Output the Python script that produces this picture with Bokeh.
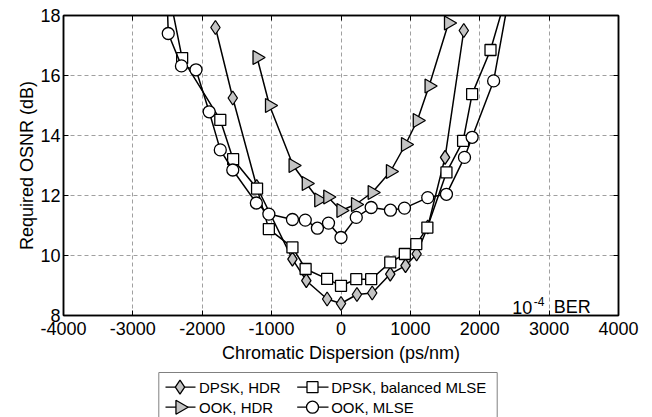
import math
from bokeh.plotting import figure
from bokeh.models import Range1d, FixedTicker, LinearAxis
from bokeh.layouts import column
from bokeh.core.properties import value
from bokeh.embed import file_html
from bokeh.resources import INLINE

# ---------------- data ----------------
x_ticks = [-4000, -3000, -2000, -1000, 0, 1000, 2000, 3000, 4000]
x_tick_labels = ["-4000", "-3000", "-2000", "-1000", "0", "1000", "2000", "3000", "4000"]
y_ticks = [8, 10, 12, 14, 16, 18]
y_tick_labels = ["8", "10", "12", "14", "16", "18"]

dpsk_hdr_x = [-1810, -1560, -1215, -700, -500, -200, 0, 230, 450, 710, 930, 1090, 1250, 1500, 1770]
dpsk_hdr_y = [17.6, 15.25, 12.3, 9.88, 9.16, 8.55, 8.4, 8.7, 8.75, 9.38, 9.66, 10.05, 10.95, 13.27, 17.5]

ook_hdr_x = [-1210, -1030, -690, -500, -320, -190, 0, 210, 450, 713, 930, 1100, 1270, 1550]
ook_hdr_y = [16.6, 15.0, 13.0, 12.4, 11.85, 11.95, 11.5, 11.7, 12.1, 12.8, 13.7, 14.5, 15.65, 17.75]

dpsk_mlse_x = [-2500, -2290, -1740, -1555, -1210, -1040, -700, -510, -200, 0, 220, 435, 710, 920, 1085, 1245, 1520, 1760, 1890, 2155, 2400]
dpsk_mlse_y = [19.0, 16.58, 14.52, 13.21, 12.23, 10.88, 10.27, 9.55, 9.22, 8.99, 9.21, 9.21, 9.77, 10.05, 10.38, 10.93, 12.77, 13.82, 15.38, 16.85, 18.8]

ook_mlse_x = [-2520, -2490, -2300, -2090, -1900, -1740, -1560, -1220, -1040, -700, -515, -340, -180, 0, 220, 435, 713, 915, 1250, 1520, 1780, 1890, 2200, 2450]
ook_mlse_y = [19.5, 17.4, 16.32, 16.19, 14.79, 13.52, 12.85, 11.75, 11.38, 11.2, 11.18, 10.91, 11.08, 10.6, 11.27, 11.6, 11.51, 11.58, 11.93, 12.04, 13.27, 13.94, 15.82, 19.0]

legend_labels = ["DPSK, HDR", "DPSK, balanced MLSE", "OOK, HDR", "OOK, MLSE"]

FONT = "Liberation Sans"
GRAY = "#c4c4c4"
W = 640
FL, FR = 63, 618  # frame edges in page pixels

# ---------------- main figure ----------------
p = figure(width=W, height=365, output_backend="svg", toolbar_location=None,
           x_range=Range1d(-4000, 4000), y_range=Range1d(8, 18),
           min_border_left=FL, min_border_right=W - FR, min_border_top=15, min_border_bottom=50)
p.outline_line_color = "black"
p.outline_line_width = 1.5
p.background_fill_color = "white"
p.border_fill_color = "white"

for ax in (p.xaxis[0], p.yaxis[0]):
    ax.major_tick_in = 5
    ax.major_tick_out = 0
    ax.minor_tick_line_color = None
    ax.axis_line_width = 1.5
    ax.axis_line_color = "black"
    ax.major_tick_line_color = "black"
    ax.major_label_text_font = FONT
    ax.major_label_text_font_size = "18px"
    ax.major_label_text_color = "black"
    ax.axis_label_text_font = FONT
    ax.axis_label_text_font_size = "18px"
    ax.axis_label_text_font_style = "normal"
    ax.axis_label_text_color = "black"

p.xaxis.ticker = FixedTicker(ticks=x_ticks)
p.yaxis.ticker = FixedTicker(ticks=y_ticks)
p.xaxis.major_label_overrides = {t: s for t, s in zip(x_ticks, x_tick_labels)}
p.yaxis.major_label_overrides = {t: s for t, s in zip(y_ticks, y_tick_labels)}
p.xaxis.axis_label = "Chromatic Dispersion (ps/nm)"
p.yaxis.axis_label = "Required OSNR (dB)"
p.xaxis.major_label_standoff = 6
p.xaxis.axis_label_standoff = 5
p.yaxis.major_label_standoff = 3
p.yaxis.axis_label_standoff = 0

for loc, ticks in (("above", x_ticks), ("right", y_ticks)):
    ax = LinearAxis(ticker=FixedTicker(ticks=ticks))
    ax.major_tick_in = 5
    ax.major_tick_out = 0
    ax.minor_tick_line_color = None
    ax.major_label_overrides = {t: "" for t in ticks}
    ax.major_label_standoff = 0
    ax.axis_line_width = 1.5
    p.add_layout(ax, loc)

p.xgrid.ticker = FixedTicker(ticks=x_ticks)
p.ygrid.ticker = FixedTicker(ticks=y_ticks)
p.grid.grid_line_color = "#a0a0a0"
p.grid.grid_line_dash = "4 3"
p.grid.grid_line_width = 1

LW = 1.5
# DPSK, HDR
p.line(dpsk_hdr_x, dpsk_hdr_y, line_color="black", line_width=LW)
p.scatter(dpsk_hdr_x, dpsk_hdr_y, marker="diamond", size=14, fill_color=GRAY, line_color="black", line_width=1.3)
# OOK, HDR
p.line(ook_hdr_x, ook_hdr_y, line_color="black", line_width=LW)
p.scatter(ook_hdr_x, ook_hdr_y, marker="triangle", angle=-math.pi / 2, size=14, fill_color=GRAY, line_color="black", line_width=1.3)
# DPSK, balanced MLSE
p.line(dpsk_mlse_x, dpsk_mlse_y, line_color="black", line_width=LW)
p.scatter(dpsk_mlse_x, dpsk_mlse_y, marker="square", size=11, fill_color="white", line_color="black", line_width=1.3)
# OOK, MLSE
p.line(ook_mlse_x, ook_mlse_y, line_color="black", line_width=LW)
p.scatter(ook_mlse_x, ook_mlse_y, marker="circle", size=12, fill_color="white", line_color="black", line_width=1.3)

# "10^-4 BER" annotation
p.text(x=[2468, 3067], y=[8.27, 8.27], text=["10", "BER"], text_font=value(FONT),
       text_font_size=value("18px"), text_baseline="alphabetic", text_align="left", text_color="black")
p.text(x=[2779], y=[8.47], text=["-4"], text_font=value(FONT),
       text_font_size=value("12px"), text_baseline="alphabetic", text_align="left", text_color="black")

# ---------------- legend figure (x in page pixels, y from its top) ----------------
LH = 52
lf = figure(width=W, height=LH, output_backend="svg", toolbar_location=None,
            x_range=Range1d(FL, FR), y_range=Range1d(LH, 0),
            min_border=0, x_axis_location=None, y_axis_location=None)
lf.outline_line_color = None
lf.grid.visible = False
lf.background_fill_color = "white"
lf.border_fill_color = "white"

lf.quad(left=[158.3], right=[496.7], top=[7], bottom=[70], fill_color="white", line_color="#808080", line_width=1)

row_y = [21.7, 41.7]
col_line = [(165, 195), (296.7, 328)]
col_mark = [179.5, 312]
col_text = [198.5, 330.7]
items = [
    (0, 0, "diamond", 14, GRAY, 0),
    (1, 0, "square", 11, "white", 0),
    (0, 1, "triangle", 14, GRAY, -math.pi / 2),
    (1, 1, "circle", 12, "white", 0),
]
for c, r, mk, sz, fc, ang in items:
    yy = row_y[r]
    lf.line([col_line[c][0], col_line[c][1]], [yy, yy], line_color="black", line_width=1.3)
    lf.scatter([col_mark[c]], [yy], marker=mk, size=sz, angle=ang, fill_color=fc, line_color="black", line_width=1.3)
    lf.text(x=[col_text[c]], y=[yy], text=[legend_labels[c + 2 * r]], text_font=value(FONT),
            text_font_size=value("15px"), text_baseline="middle", text_align="left", text_color="black")

layout = column(p, lf, spacing=0)
open("out.html", "w").write(file_html(layout, INLINE))
